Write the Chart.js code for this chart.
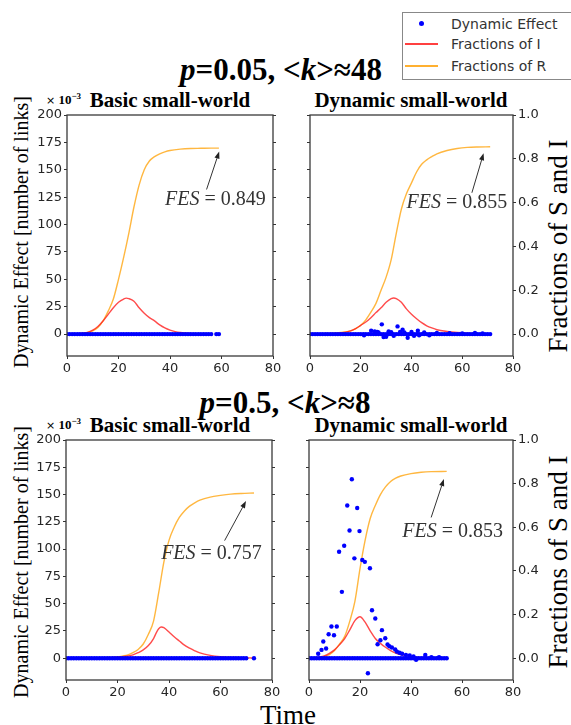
<!DOCTYPE html>
<html><head><meta charset="utf-8">
<script src="https://cdn.jsdelivr.net/npm/chart.js@4.4.1/dist/chart.umd.min.js"></script>
<style>
body{margin:0;background:#fff;width:571px;height:725px;position:relative;overflow:hidden;font-family:"Liberation Serif",serif;}
canvas{position:absolute;}
.t{position:absolute;white-space:nowrap;color:#000;}
.rot{position:absolute;white-space:nowrap;transform:translate(-50%,-50%) rotate(-90deg);color:#000;}
.sup{font-weight:bold;text-align:center;}
#legend{position:absolute;left:402px;top:12px;width:185px;height:66px;border:1px solid #888;background:#fff;font:14px "DejaVu Sans";color:#333;}
#legend .txt{position:absolute;left:48px;line-height:16px;}
</style></head>
<body>
<div class="t sup" style="left:0;width:562px;top:51px;font-size:31px;line-height:38px;"><i>p</i>=0.05, &lt;<i>k</i>&gt;≈48</div>
<div class="t sup" style="left:0;width:570px;top:384px;font-size:31px;line-height:38px;"><i>p</i>=0.5, &lt;<i>k</i>&gt;≈8</div>
<div class="t sup" style="left:70px;width:200px;top:88px;font-size:21px;line-height:24px;">Basic small-world</div>
<div class="t sup" style="left:311px;width:200px;top:88px;font-size:21px;line-height:24px;">Dynamic small-world</div>
<div class="t sup" style="left:70px;width:200px;top:413px;font-size:21px;line-height:24px;">Basic small-world</div>
<div class="t sup" style="left:311px;width:200px;top:413px;font-size:21px;line-height:24px;">Dynamic small-world</div>
<div class="t" style="left:46px;top:89px;font-size:13px;line-height:15px;"><span style="font-family:'DejaVu Sans';font-size:11px">×</span><b> 10<sup style="font-size:9px">−3</sup></b></div>
<div class="t" style="left:46px;top:414px;font-size:13px;line-height:15px;"><span style="font-family:'DejaVu Sans';font-size:11px">×</span><b> 10<sup style="font-size:9px">−3</sup></b></div>
<div class="rot" style="left:21px;top:232px;font-size:20px;">Dynamic Effect [number of links]</div>
<div class="rot" style="left:21px;top:562px;font-size:20px;">Dynamic Effect [number of links]</div>
<div class="rot" style="left:558px;top:246px;font-size:27px;">Fractions of S and I</div>
<div class="rot" style="left:558px;top:562px;font-size:27px;">Fractions of S and I</div>
<div class="t" style="left:188px;width:200px;text-align:center;top:700px;font-size:27px;line-height:30px;">Time</div>
<div id="legend">
  <div style="position:absolute;left:16px;top:8px;width:5px;height:5px;border-radius:50%;background:#0000ff;"></div>
  <div class="txt" style="top:3px;">Dynamic Effect</div>
  <div style="position:absolute;left:2px;top:30px;width:33px;height:1.5px;background:#ff4040;"></div>
  <div class="txt" style="top:23px;">Fractions of I</div>
  <div style="position:absolute;left:2px;top:52px;width:33px;height:1.5px;background:#ffb030;"></div>
  <div class="txt" style="top:45px;">Fractions of R</div>
</div>
<canvas id="tl"></canvas>
<canvas id="tr"></canvas>
<canvas id="bl"></canvas>
<canvas id="br"></canvas>
<script>
// ---------- tick labels ----------
const xTicks = [0, 20, 40, 60, 80];
const leftTicks = [0, 25, 50, 75, 100, 125, 150, 175, 200];
const rightTicks = [0.0, 0.2, 0.4, 0.6, 0.8, 1.0];

// ---------- p=0.05 Basic small-world ----------
const tlRTime = [0,4,8,10,12,14,16,18,20,22,24,26,28,30,32,34,36,38,40,44,48,52,56,59];
const tlR     = [0,0.002,0.008,0.015,0.03,0.06,0.105,0.16,0.25,0.35,0.46,0.58,0.68,0.75,0.79,0.81,0.823,0.832,0.838,0.844,0.847,0.848,0.849,0.849];
const tlITime = [0,4,8,10,12,14,16,18,20,22,23,24,26,28,30,32,34,36,38,40,42,44,48,52,55];
const tlI     = [0.001,0.002,0.008,0.018,0.035,0.06,0.09,0.12,0.145,0.16,0.164,0.162,0.15,0.12,0.095,0.075,0.06,0.042,0.028,0.018,0.011,0.007,0.003,0.001,0];
const tlZeroTime = [0,1,2,3,4,5,6,7,8,9,10,11,12,13,14,15,16,17,18,19,20,21,22,23,24,25,26,27,28,29,30,31,32,33,34,35,36,37,38,39,40,41,42,43,44,45,46,47,48,49,50,51,52,53,54,55,56,58,59];
const tlDynTime = [];
const tlDyn     = [];

// ---------- p=0.05 Dynamic small-world ----------
const trRTime = [0,5,10,14,16,18,20,22,24,26,28,30,32,34,36,38,40,42,44,46,48,50,54,58,62,66,71];
const trR     = [0,0.002,0.005,0.01,0.015,0.025,0.04,0.065,0.1,0.14,0.2,0.26,0.34,0.46,0.57,0.64,0.69,0.74,0.775,0.795,0.81,0.823,0.838,0.847,0.852,0.854,0.855];
const trITime = [0,8,12,16,18,20,22,24,26,28,30,32,33,34,36,38,40,42,44,46,48,50,54,58,62,66,70];
const trI     = [0.001,0.002,0.005,0.015,0.025,0.04,0.055,0.075,0.098,0.12,0.145,0.162,0.165,0.162,0.145,0.115,0.09,0.07,0.052,0.038,0.028,0.02,0.012,0.007,0.004,0.002,0.001];
const trZeroTime = [0,1,2,3,4,5,6,7,8,9,10,11,12,13,14,15,16,17,18,19,20,21,22,23,24,25,26,27,28,29,30,31,32,33,34,35,36,37,38,39,40,41,42,43,44,45,46,47,48,49,50,51,52,53,54,55,56,57,58,59,60,61,62,63,64,65,66,67,68,69,70,71];
const trDynTime = [21.3,24.1,25.5,26.5,27,28.3,29,30,31,32,33,34.5,35.5,36.5,37.2,38.5,40,41,42.5,43,45,47,50,55,60,65,68];
const trDyn     = [-1,3,2.5,2,1.5,8.9,-2.7,-2.5,2.5,1.8,-1.5,7,2,4,1.5,-3.4,2,-1.5,3,-1,1.5,-1,1,0.8,0.5,1,0.5];

// ---------- p=0.5 Basic small-world ----------
const blRTime = [0,10,16,20,22,24,26,28,30,32,34,36,38,40,42,44,46,48,50,52,56,60,64,68,73];
const blR     = [0,0.001,0.003,0.006,0.01,0.015,0.025,0.04,0.065,0.11,0.17,0.30,0.44,0.54,0.60,0.645,0.675,0.697,0.712,0.724,0.738,0.746,0.752,0.755,0.757];
const blITime = [0,16,20,24,26,28,30,32,34,35,36,37,38,40,42,44,46,48,50,52,56,60,66,73];
const blI     = [0,0.002,0.004,0.01,0.015,0.025,0.038,0.058,0.09,0.115,0.135,0.143,0.14,0.12,0.098,0.079,0.06,0.046,0.034,0.024,0.013,0.007,0.003,0.001];
const blZeroTime = [0,1,2,3,4,5,6,7,8,9,10,11,12,13,14,15,16,17,18,19,20,21,22,23,24,25,26,27,28,29,30,31,32,33,34,35,36,37,38,39,40,41,42,43,44,45,46,47,48,49,50,51,52,53,54,55,56,57,58,59,60,61,62,63,64,65,66,67,68,69,70,73];
const blDynTime = [];
const blDyn     = [];

// ---------- p=0.5 Dynamic small-world ----------
const brRTime = [0,4,6,8,10,12,14,16,18,20,22,24,26,28,30,32,34,36,40,44,48,54];
const brR     = [0,0.003,0.008,0.016,0.035,0.065,0.1,0.17,0.26,0.41,0.54,0.64,0.70,0.75,0.785,0.81,0.825,0.835,0.846,0.852,0.855,0.856];
const brITime = [0,4,6,8,10,12,14,16,18,20,22,24,26,28,30,32,34,36,38,42,46,50,54];
const brI     = [0.001,0.005,0.01,0.022,0.038,0.062,0.09,0.13,0.172,0.19,0.165,0.125,0.09,0.068,0.05,0.035,0.023,0.016,0.011,0.005,0.003,0.001,0];
const brZeroTime = [0,1,2,3,4,5,6,7,8,9,10,11,12,13,14,15,16,17,18,19,20,21,22,23,24,25,26,27,28,29,30,31,32,33,34,35,36,37,38,39,40,41,42,43,44,45,46,47,48,49,50,51,52,53,54];
const brDynTime = [3.6,4.9,5.6,6.7,7.7,8.8,9.8,10.9,11.8,12.9,13.8,15,15.9,16.8,17.8,18.9,19.8,20.9,21.9,23.1,23.9,24.7,26,26.9,28,28.6,29.9,30.8,31.5,32.5,33.8,34.5,35.5,36.5,38,39.5,41,42,45.6,48,51];
const brDyn     = [4,7.6,15.3,8.9,22,29,21,29,97.5,60.8,103,140,117,164,91.5,137.6,116.5,90,88.3,-13.8,82.5,44,36.4,12.8,16.5,25.7,18.3,12.5,11,9.8,8,6,5,4,3,2.5,1.5,-1.5,3,1,1];

// ---------- helpers ----------
const pts = (xs, ys) => xs.map((x, i) => ({x: x, y: ys[i]}));
const zeroPts = xs => xs.map(x => ({x: x, y: 0}));
const tickFont = {family: 'DejaVu Sans', size: 13};
const tickColor = '#262626';
const PADL = 60, PADT = 10, PADR = 60, PADB = 24;

function makeChart(id, box, d, showRight, fes) {
  const [L, T, R, B] = box;
  const W = (R - L) + PADL + PADR, H = (B - T) + PADT + PADB;
  const cv = document.getElementById(id);
  cv.width = W; cv.height = H;
  cv.style.left = (L - PADL) + 'px'; cv.style.top = (T - PADT) + 'px';
  cv.style.width = W + 'px'; cv.style.height = H + 'px';

  const plugin = {
    id: 'decor_' + id,
    afterDraw(chart) {
      const ctx = chart.ctx, a = chart.chartArea;
      const xs = chart.scales.x, ys = chart.scales.y1;
      ctx.save();
      const hx = xs.getPixelForValue(fes.head[0]), hy = ys.getPixelForValue(fes.head[1]);
      const tx = xs.getPixelForValue(fes.tail[0]), ty = ys.getPixelForValue(fes.tail[1]);
      const ang = Math.atan2(hy - ty, hx - tx);
      const hl = 7, hw = 2.6;
      const bx = hx - hl * Math.cos(ang), by = hy - hl * Math.sin(ang);
      ctx.strokeStyle = '#333'; ctx.fillStyle = '#222'; ctx.lineWidth = 1;
      ctx.beginPath(); ctx.moveTo(tx, ty); ctx.lineTo(bx, by); ctx.stroke();
      ctx.beginPath();
      ctx.moveTo(hx, hy);
      ctx.lineTo(bx + hw * Math.sin(ang), by - hw * Math.cos(ang));
      ctx.lineTo(bx - hw * Math.sin(ang), by + hw * Math.cos(ang));
      ctx.closePath(); ctx.fill();
      const cx = xs.getPixelForValue(fes.text[0]), cy = ys.getPixelForValue(fes.text[1]);
      ctx.font = 'italic 20px "Liberation Serif"';
      const w1 = ctx.measureText('FES').width;
      ctx.font = '20px "Liberation Serif"';
      const rest = ' = ' + fes.label;
      const w2 = ctx.measureText(rest).width;
      const x0 = cx - (w1 + w2) / 2;
      ctx.fillStyle = '#333'; ctx.textBaseline = 'middle'; ctx.textAlign = 'left';
      ctx.font = 'italic 20px "Liberation Serif"';
      ctx.fillText('FES', x0, cy);
      ctx.font = '20px "Liberation Serif"';
      ctx.fillText(rest, x0 + w1, cy);
      ctx.strokeStyle = '#3a3a3a'; ctx.lineWidth = 1.3;
      ctx.strokeRect(a.left, a.top, a.right - a.left, a.bottom - a.top);
      ctx.restore();
    }
  };

  return new Chart(cv, {
    data: {
      datasets: [
        {type: 'scatter', label: 'Dynamic Effect', data: zeroPts(d.zeroT).concat(pts(d.dynT, d.dyn)),
         yAxisID: 'y', pointRadius: 2.2, pointBackgroundColor: '#0000ff', pointBorderWidth: 0, borderColor: '#0000ff'},
        {type: 'line', label: 'Fractions of I', data: pts(d.iT, d.i), yAxisID: 'y1',
         borderColor: 'rgba(255,30,30,0.8)', borderWidth: 1.4, pointRadius: 0, cubicInterpolationMode: 'monotone', fill: false},
        {type: 'line', label: 'Fractions of R', data: pts(d.rT, d.r), yAxisID: 'y1',
         borderColor: 'rgba(255,170,30,0.85)', borderWidth: 1.4, pointRadius: 0, cubicInterpolationMode: 'monotone', fill: false}
      ]
    },
    options: {
      responsive: false, animation: false, devicePixelRatio: 1,
      layout: {padding: {left: 0, right: 0, top: PADT, bottom: 0}},
      plugins: {legend: {display: false}, tooltip: {enabled: false}},
      scales: {
        x: {type: 'linear', min: 0, max: 80,
            afterBuildTicks: s => { s.ticks = xTicks.map(v => ({value: v})); },
            afterFit: s => { s.height = PADB; },
            grid: {display: true, drawOnChartArea: false, drawTicks: true, tickLength: 3, color: '#333'},
            border: {display: false},
            ticks: {font: tickFont, color: tickColor, padding: 2, maxRotation: 0, autoSkip: false}},
        y: {type: 'linear', position: 'left', min: -20, max: 200,
            afterBuildTicks: s => { s.ticks = leftTicks.map(v => ({value: v})); },
            afterFit: s => { s.width = PADL; },
            grid: {display: true, drawOnChartArea: false, drawTicks: true, tickLength: 3, color: '#333'},
            border: {display: false},
            ticks: {display: !showRight, font: tickFont, color: tickColor, padding: 2}},
        y1: {type: 'linear', position: 'right', min: -0.1, max: 1.0,
            afterBuildTicks: s => {
              s.ticks = (showRight ? rightTicks : leftTicks.map(v => v / 200)).map(v => ({value: v}));
            },
            afterFit: s => { s.width = PADR; },
            grid: {display: true, drawOnChartArea: false, drawTicks: true, tickLength: 3, color: '#333'},
            border: {display: false},
            ticks: {display: showRight, font: tickFont, color: tickColor, padding: 2,
                    callback: v => Number(v).toFixed(1)}}
      }
    },
    plugins: [plugin]
  });
}

makeChart('tl', [67, 115, 273, 356],
  {zeroT: tlZeroTime, dynT: tlDynTime, dyn: tlDyn, iT: tlITime, i: tlI, rT: tlRTime, r: tlR}, false,
  {label: '0.849', head: [59.1, 0.833], tail: [54.2, 0.66], text: [57.6, 0.614]});
makeChart('tr', [310, 115, 513, 356],
  {zeroT: trZeroTime, dynT: trDynTime, dyn: trDyn, iT: trITime, i: trI, rT: trRTime, r: trR}, true,
  {label: '0.855', head: [68.4, 0.825], tail: [63.8, 0.645], text: [57.9, 0.60]});
makeChart('bl', [66, 440, 272, 680],
  {zeroT: blZeroTime, dynT: blDynTime, dyn: blDyn, iT: blITime, i: blI, rT: blRTime, r: blR}, false,
  {label: '0.757', head: [69.9, 0.72], tail: [61.6, 0.539], text: [56.5, 0.478]});
makeChart('br', [309, 440, 513, 680],
  {zeroT: brZeroTime, dynT: brDynTime, dyn: brDyn, iT: brITime, i: brI, rT: brRTime, r: brR}, true,
  {label: '0.853', head: [52.9, 0.821], tail: [47.9, 0.645], text: [56.3, 0.58]});
</script>
</body></html>
